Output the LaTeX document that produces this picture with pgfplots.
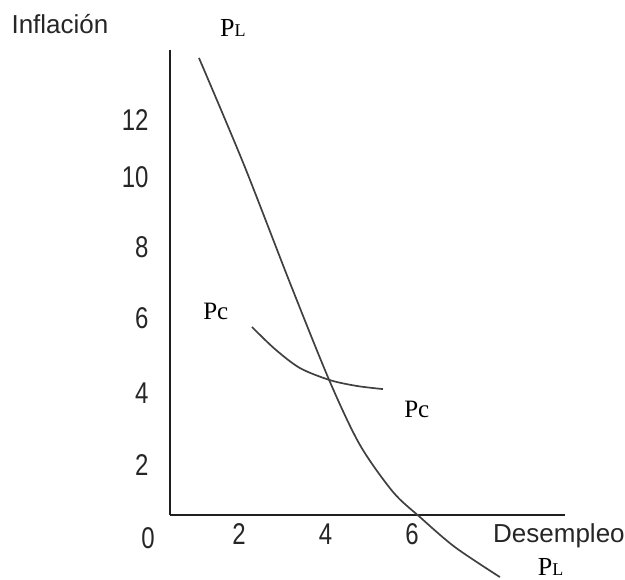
\documentclass[border=0pt]{standalone}
\usepackage{fontspec}
\setmainfont{Liberation Sans}
\newfontfamily\serifpl{Liberation Serif}
\newfontfamily\digitfont[FakeStretch=0.8]{Liberation Sans}
\usepackage{pgfplots}
\pgfplotsset{compat=1.18}

% Long-run (PL) and short-run (Pc) Phillips curves
\pgfplotstableread{
x      y
1.075  13.80
2.116  10.70
3.179  7.28
4.104  4.41
4.798  2.58
5.561  1.22
6.185  0.49
6.994  -0.38
8.035  -1.25
}\curvePL

\pgfplotstableread{
x      y
2.301  6.00
2.832  5.36
3.410  4.81
4.104  4.46
4.728  4.29
5.329  4.20
}\curvePc

\newcommand{\PL}{{\serifpl\fontsize{26}{30}\selectfont P\fontsize{18}{20}\selectfont L}}
\newcommand{\Pc}{{\serifpl\fontsize{25}{30}\selectfont Pc}}
\newcommand{\digitsize}{\digitfont\fontsize{30}{34}\selectfont}

\begin{document}
\begin{tikzpicture}
\useasboundingbox (0,0) rectangle (625pt,580pt);
\begin{axis}[
  at={(170pt,65pt)}, anchor=south west,
  scale only axis, width=395pt, height=465pt,
  xmin=0.405, xmax=9.54, ymin=0.55, ymax=14.03,
  axis x line=bottom, axis y line=left,
  axis line style={-, line width=2.4pt, color=black!88},
  xtick={2,4,6},
  ytick={2,4.09,6.26,8.32,10.35,12},
  yticklabels={2,4,6,8,10,12},
  major tick length=0pt,
  /pgf/number format/assume math mode=true,
  tick label style={font=\digitsize, text=black!85},
  yticklabel style={xshift=-18pt},
  xticklabel style={yshift=-5pt},
  clip=false,
]
\addplot[smooth, tension=0.5, line width=1.7pt, color=black!75] table[x=x, y=y] {\curvePL};
\addplot[smooth, tension=0.5, line width=1.7pt, color=black!75] table[x=x, y=y] {\curvePc};

\node[anchor=base, font=\fontsize{26}{30}\selectfont, text=black!85] at (axis cs:-2.14,14.52) {Inflación};
\node[anchor=base, font=\fontsize{26}{30}\selectfont, text=black!85] at (axis cs:9.40,-0.26) {Desempleo};
\node[anchor=base, font=\digitsize, text=black!85] at (axis cs:-0.10,-0.41) {0};
\node[anchor=base west, inner sep=0pt] at (axis cs:1.56,14.41) {\PL};
\node[anchor=base west, inner sep=0pt] at (axis cs:8.91,-1.20) {\PL};
\node[anchor=base west, inner sep=0pt] at (axis cs:1.17,6.23) {\Pc};
\node[anchor=base west, inner sep=0pt] at (axis cs:5.82,3.39) {\Pc};
\end{axis}
\end{tikzpicture}
\end{document}
